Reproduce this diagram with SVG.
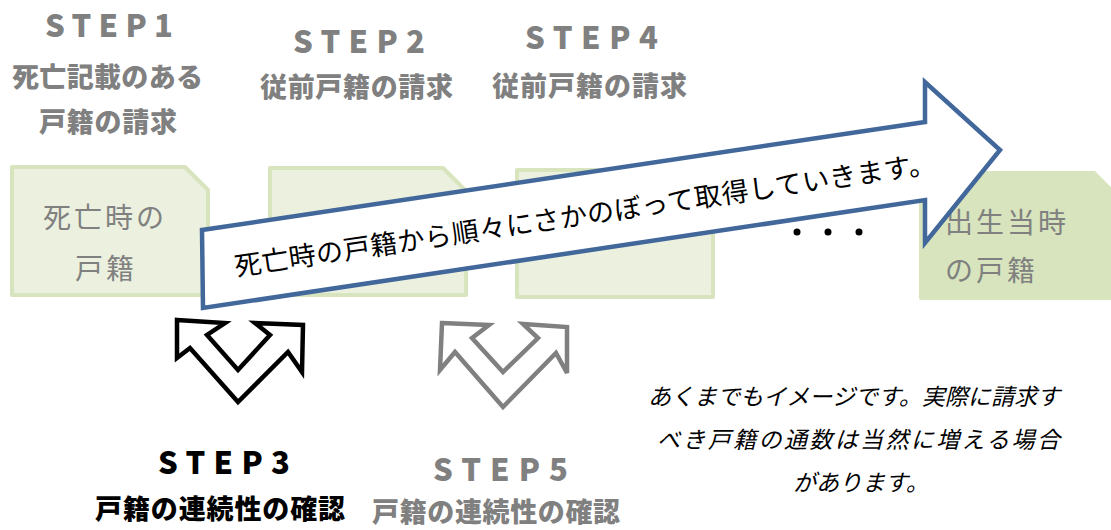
<svg xmlns="http://www.w3.org/2000/svg" width="1111" height="530" viewBox="0 0 1111 530">
<style>
.doc{fill:#ebf1de;stroke:#d7e4bd;stroke-width:4;stroke-linejoin:round}
.doc4{fill:#d7e4bd;stroke:#d7e4bd;stroke-width:4;stroke-linejoin:round}
.dt{font-family:"Noto Sans CJK JP","Noto Sans",sans-serif;font-size:28px;fill:#808080}
.hd{font-family:"Noto Sans CJK JP","Noto Sans",sans-serif;font-weight:900;fill:#808080}
.st{font-size:31px}
.jp{font-size:27px}
.blk{fill:#000}
.big{fill:#fff;stroke:#41679b;stroke-width:4.5;stroke-linejoin:miter}
.dbl{fill:#fff;stroke-width:4.5;stroke-linejoin:miter}
.note{font-family:"Noto Sans CJK JP","Noto Sans",sans-serif;font-size:23px;font-style:italic;fill:#000}
</style>
<rect width="1111" height="530" fill="#fff"/>
<g id="doc1">
<path class="doc" d="M12,167 H185 L208,190 V295 H12 Z"/>
<text class="dt" x="43" y="228" letter-spacing="3">死亡時の</text>
<text class="dt" x="75" y="279" letter-spacing="3">戸籍</text>
</g>
<g id="doc2"><path class="doc" d="M270,168 H443 L466,191 V295 H270 Z"/></g>
<g id="doc3"><path class="doc" d="M517,170 H690 L713,193 V297 H517 Z"/></g>
<g id="doc4">
<path class="doc4" d="M921,173 H1094 L1117,196 V298 H921 Z"/>
<text class="dt" x="945" y="233" letter-spacing="3">出生当時</text>
<text class="dt" x="945" y="281" letter-spacing="3">の戸籍</text>
</g>
<g id="dots">
<circle cx="797" cy="232" r="3.5" fill="#000"/>
<circle cx="828" cy="232" r="3.5" fill="#000"/>
<circle cx="859" cy="232" r="3.5" fill="#000"/>
</g>
<g id="connectors">
<g id="bigArrow">
<path class="big" d="M202,230 L925,122 L925,82 L1000,150 L925,243 L925,200 L203,308 Z"/>
<text font-family="'Noto Sans CJK JP','Noto Sans',sans-serif" font-size="27" fill="#000" transform="translate(236,276) rotate(-8.4)" textLength="708" lengthAdjust="spacing">死亡時の戸籍から順々にさかのぼって取得していきます。</text>
</g>
<path id="dbl3" class="dbl" stroke="#000" d="M177,320 L225,323 L207,335 L238,370 L270,335 L255,323 L303,325 L302,372 L288,352 L238,402 L190,348 L177,358 Z"/>
<path id="dbl5" class="dbl" stroke="#808080" d="M442,323 L489,325 L472,338 L503,372 L538,338 L523,324 L567,327 L567,373 L556,353 L503,407 L455,352 L440,370 Z"/>
</g>
<g id="step1">
<text class="hd st" x="45" y="37" textLength="128" lengthAdjust="spacing">STEP1</text>
<text class="hd jp" x="12" y="87" textLength="191" lengthAdjust="spacing">死亡記載のある</text>
<text class="hd jp" x="39" y="132" textLength="138" lengthAdjust="spacing">戸籍の請求</text>
</g>
<g id="step2">
<text class="hd st" x="293" y="53" textLength="132" lengthAdjust="spacing">STEP2</text>
<text class="hd jp" x="260" y="97" textLength="193" lengthAdjust="spacing">従前戸籍の請求</text>
</g>
<g id="step4">
<text class="hd st" x="525" y="49" textLength="133" lengthAdjust="spacing">STEP4</text>
<text class="hd jp" x="492" y="96" textLength="195" lengthAdjust="spacing">従前戸籍の請求</text>
</g>
<g id="step3">
<text class="hd st blk" x="158" y="474" textLength="132" lengthAdjust="spacing">STEP3</text>
<text class="hd jp blk" x="95" y="519" textLength="250" lengthAdjust="spacing">戸籍の連続性の確認</text>
</g>
<g id="step5">
<text class="hd st" x="433" y="481" textLength="135" lengthAdjust="spacing">STEP5</text>
<text class="hd jp" x="372" y="522" textLength="248" lengthAdjust="spacing">戸籍の連続性の確認</text>
</g>
<g id="note">
<text class="note" x="648" y="405" textLength="412" lengthAdjust="spacing">あくまでもイメージです。実際に請求す</text>
<text class="note" x="657" y="448" textLength="403" lengthAdjust="spacing">べき戸籍の通数は当然に増える場合</text>
<text class="note" x="793" y="491">があります。</text>
</g>
</svg>
